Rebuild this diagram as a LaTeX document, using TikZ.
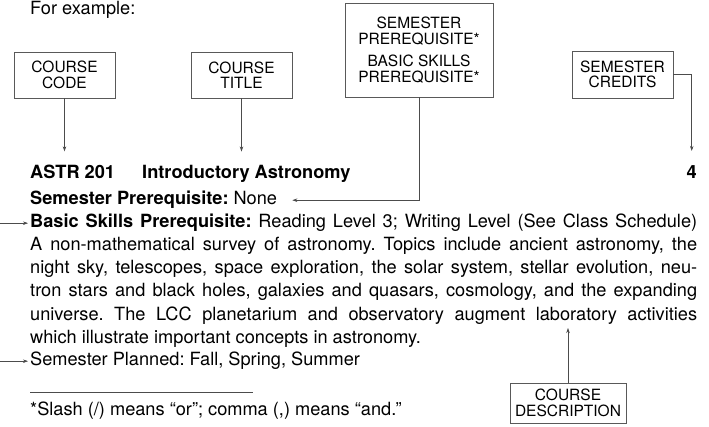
\documentclass[tikz,border=0pt]{standalone}
\usepackage{fontspec}
\setmainfont{TeX Gyre Heros}
\usetikzlibrary{arrows.meta,calc}

\newcommand\bodyfont{\fontsize{18.2}{19}\selectfont\frenchspacing}
\newcommand\jline[1]{\makebox[667pt][s]{#1}}

\tikzset{
  tag/.style={draw=black!65, line width=0.6pt, align=center, inner sep=0pt,
    minimum width=101pt, minimum height=46pt, font=\fontsize{15.5}{15.5}\selectfont},
  txt/.style={anchor=base west, inner sep=0pt, font=\bodyfont},
  head/.style={txt, font=\bodyfont\bfseries},
  link/.style={draw=black!70, line width=0.6pt, -{Stealth[length=5pt,width=3.5pt]}},
}

\begin{document}
\begin{tikzpicture}[x=1pt,y=-1pt]
			\useasboundingbox (0,0) rectangle (709,427);
			
			%%%%% TAGS %%%%%
			\node[tag] (codebox) at (64.5,75) {COURSE\\CODE};
			\node[tag] (titlebox) at (241.5,75) {COURSE\\TITLE};
			\node[tag, minimum width=148pt, minimum height=94pt] (prereqbox) at (419,50)
			  {SEMESTER\\PREREQUISITE*\\[7pt]BASIC SKILLS\\PREREQUISITE*};
			\node[tag, minimum height=47pt] (creditsbox) at (622.5,74.5) {SEMESTER\\CREDITS};
			\node[tag, minimum width=116pt, minimum height=40pt] (descbox) at (568,403) {COURSE\\DESCRIPTION};
			
			%%%%% ENTRY %%%%%
			\node[txt] (intro) at (30,15) {For example:};
			
			\node[head] (code) at (30,179) {ASTR 201};
			\node[head] (title) at (142,179) {Introductory Astronomy};
			\node[head, anchor=base east] (credits) at (697,179) {4};
			
			\node[txt] (prereq) at (30,205) {\textbf{Semester Prerequisite:} None};
			\node[txt] (basic) at (30,228) {\jline{\textbf{Basic Skills Prerequisite:} Reading Level 3; Writing Level (See Class Schedule)}};
			\node[txt] (descA) at (30,251) {\jline{A non-mathematical survey of astronomy. Topics include ancient astronomy, the}};
			\node[txt] (descB) at (30,274) {\jline{night sky, telescopes, space exploration, the solar system, stellar evolution, neu-}};
			\node[txt] (descC) at (30,297) {\jline{tron stars and black holes, galaxies and quasars, cosmology, and the expanding}};
			\node[txt] (descD) at (30,320) {\jline{universe. The LCC planetarium and observatory augment laboratory activities}};
			\node[txt] (descE) at (30,343) {which illustrate important concepts in astronomy.};
			\node[txt] (planned) at (30,366) {Semester Planned: Fall, Spring, Summer};
			
			\draw[black!70, line width=0.6pt] (30,392) -- (253,392);
			\node[txt] (note) at (30,415) {*Slash (/) means “or”; comma (,) means “and.”};
			
			%%%%% ARROWS %%%%%
			\coordinate (desctip) at (568,328);
			
			\draw[link, shorten >=14pt] (codebox.south) -- (codebox.south |- code.north);
			\draw[link, shorten >=14pt] (titlebox.south) -- (titlebox.south |- title.north);
			\draw[link, shorten >=15pt] (creditsbox.east) -| (credits.north);
			\draw[link, shorten >=15pt] (prereqbox.south) |- (prereq.east);
			\draw[link, shorten >=2pt] ([xshift=-30pt]basic.west) -- (basic.west);
			\draw[link, shorten >=2pt] ([xshift=-30pt]planned.west) -- (planned.west);
			\draw[link] (descbox.north) -- (desctip);
			
		\end{tikzpicture}
\end{document}
